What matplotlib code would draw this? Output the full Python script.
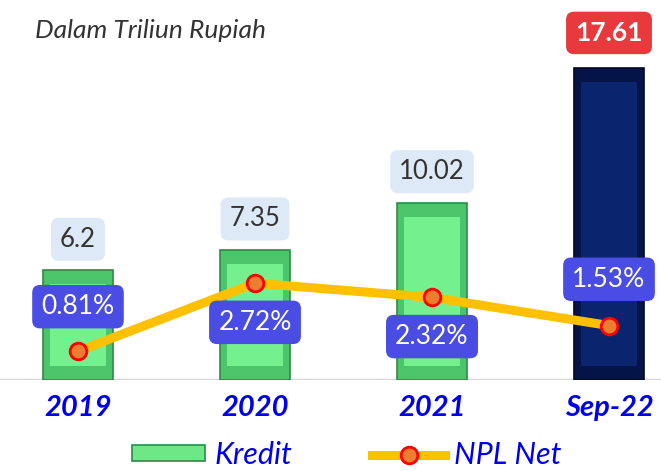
import matplotlib.pyplot as plt
import matplotlib.patches as mpatches
from matplotlib.lines import Line2D
import numpy as np

categories = ['2019', '2020', '2021', 'Sep-22']
kredit     = [6.2, 7.35, 10.02, 17.61]
npl_net    = [0.81, 2.72, 2.32, 1.53]
kredit_lbl = ['6.2', '7.35', '10.02', '17.61']
npl_lbl    = ['0.81%', '2.72%', '2.32%', '1.53%']

font = 'Lato'
plt.rcParams['font.family'] = [font, 'DejaVu Sans']

fig = plt.figure(figsize=(6.61, 4.71), dpi=100)
ax = fig.add_axes([0, 91 / 471, 1, 380 / 471])
ax2 = ax.twinx()

x = np.arange(len(categories))
ax.set_xlim(-78 / 177, 583 / 177)
ax.set_ylim(0, 380 / 17.7)
ax2.set_ylim(0, 380 / 35.6)

face  = ['#4cc46a', '#4cc46a', '#4cc46a', '#041448']
edge  = ['#2f8a48', '#2f8a48', '#2f8a48', '#010820']
inner = ['#74f08e', '#74f08e', '#74f08e', '#0b246e']
width = 0.40

ax.bar(x, kredit, width=width, color=face, edgecolor=edge, linewidth=1.2, zorder=2)
# bevel look: lighter inner face
ax.bar(x, np.array(kredit) - 1.6, bottom=0.8, width=width * 0.78, color=inner,
       linewidth=0, zorder=3)

for i, v in enumerate(kredit):
    if i == len(kredit) - 1:
        ax.text(x[i], v + 2.0, kredit_lbl[i], ha='center', va='center', fontsize=19,
                color='white', fontweight='bold', zorder=6,
                bbox=dict(boxstyle='round,pad=0.35,rounding_size=0.3', fc='#e8393c', ec='none'))
    else:
        ax.text(x[i], v + 1.75, kredit_lbl[i], ha='center', va='center', fontsize=18.5,
                color='#333333', zorder=6,
                bbox=dict(boxstyle='round,pad=0.35,rounding_size=0.3', fc='#dde9f6', ec='none'))

ax2.plot(x, npl_net, color='#ffc000', linewidth=6.5, marker='o', markersize=12,
         markerfacecolor='#ed7d31', markeredgecolor='#ff0000', markeredgewidth=2, zorder=4,
         solid_capstyle='round')

offs = [1.25, -1.1, -1.1, 1.3]
for i, v in enumerate(npl_net):
    ax2.text(x[i], v + offs[i], npl_lbl[i], ha='center', va='center', fontsize=19,
             color='white', zorder=6,
             bbox=dict(boxstyle='round,pad=0.35,rounding_size=0.3', fc='#4a4de3', ec='none'))

ax.set_xticks(x)
ax.set_xticklabels(categories, fontsize=21, color='#0000ee', style='italic', fontweight='bold')
ax.tick_params(axis='x', length=0, pad=11)
ax.set_yticks([])
ax2.set_yticks([])
for a in (ax, ax2):
    for s in ['top', 'left', 'right', 'bottom']:
        a.spines[s].set_visible(False)
ax.axhline(0, color='#d6d6d6', linewidth=2.5, zorder=1)
ax2.set_zorder(ax.get_zorder() + 1)
ax2.patch.set_visible(False)

fig.text(35 / 661, 1 - 31 / 471, 'Dalam Triliun Rupiah', fontsize=19, style='italic',
         color='#333333', va='center', ha='left')

h1 = mpatches.Patch(facecolor='#6ee887', edgecolor='#2f8a48', linewidth=1.2)
h2 = Line2D([], [], color='#ffc000', linewidth=6.5, marker='o', markersize=12,
            markerfacecolor='#ed7d31', markeredgecolor='#ff0000', markeredgewidth=2)
leg = fig.legend([h1, h2], ['Kredit', 'NPL Net'], loc='center', ncol=2,
                 bbox_to_anchor=(0.525, 1 - 455 / 471), frameon=False, fontsize=22,
                 handlelength=2.4, handleheight=0.4, columnspacing=2.6, handletextpad=0.3,
                 borderpad=0.1)
for t in leg.get_texts():
    t.set_color('#0000ee')
    t.set_style('italic')

fig.savefig('out.png', dpi=100)
